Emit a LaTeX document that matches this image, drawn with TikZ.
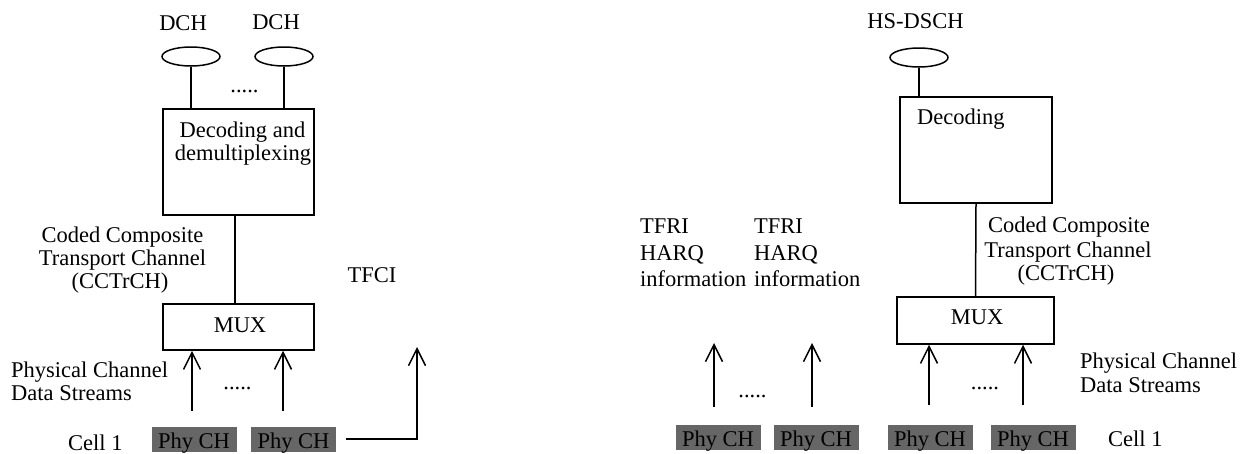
\documentclass[tikz,border=0pt]{standalone}
\usepackage{fontspec}
\setmainfont{Liberation Serif}
\usetikzlibrary{shapes.geometric,arrows.meta}
\definecolor{phygray}{RGB}{102,102,102}
\tikzset{
  txt/.style={font=\fontsize{22.5}{24}\selectfont, inner sep=0pt, anchor=base},
  txtw/.style={txt, anchor=base west},
  chan/.style={draw, ellipse, minimum width=58pt, minimum height=19pt, inner sep=0pt, line width=1.5pt},
  blk/.style={draw, rectangle, inner sep=0pt, line width=1.5pt},
  phy/.style={fill=phygray, font=\fontsize{22.5}{24}\selectfont, inner xsep=0pt, inner ysep=0pt,
              minimum width=85pt, text height=21pt, text depth=4pt, anchor=base},
  ln/.style={line width=1.5pt},
  arr/.style={line width=1.5pt, -{Straight Barb[length=17pt,width=17pt,line width=1.5pt]}},
}
\begin{document}
\begin{tikzpicture}[x=1pt,y=-1pt]
\useasboundingbox (0,0) rectangle (1241,453);

% ---------------- Left diagram ----------------
\node[txt] (dchA) at (183,30.5) {DCH};
\node[txt] (dchB) at (276,29) {DCH};
\node[chan] (e1) at (191,56.5) {};
\node[chan] (e2) at (284,56.5) {};
\node[blk, minimum width=151pt, minimum height=106pt] (dec1) at (238.5,162) {};
\node[txt] (dotsA) at (244.5,92) {.....};
\node[txt] (decA1) at (242.5,137) {Decoding and};
\node[txt] (decA2) at (243,160) {demultiplexing};
\draw[ln] (e1.south) -- (e1.south |- dec1.north);
\draw[ln] (e2.south) -- (e2.south |- dec1.north);

\node[blk, minimum width=151pt, minimum height=46pt] (mux1) at (238.5,327) {};
\node[txt] (muxA) at (240,332) {MUX};
\coordinate (cA) at (235,0);
\draw[ln] (dec1.south -| cA) -- (mux1.north -| cA);

\node[txt] (ccA1) at (122.5,242) {Coded Composite};
\node[txt] (ccA2) at (122.5,265) {Transport Channel};
\node[txt] (ccA3) at (120,288) {(CCTrCH)};
\node[txt] (tfci) at (372,282) {TFCI};

\node[txtw] (pcA1) at (11,377) {Physical Channel};
\node[txtw] (pcA2) at (11,400) {Data Streams};
\node[txt] (dotsB) at (237.5,389) {.....};
\node[txtw] (cellA) at (68,450) {Cell 1};

\node[phy] (phyA1) at (194,448) {Phy CH};
\node[phy] (phyA2) at (293.5,448) {Phy CH};

\coordinate (sA1) at (192,411);
\coordinate (sA2) at (283,411);
\draw[arr] (sA1) -- (sA1 |- mux1.south);
\draw[arr] (sA2) -- (sA2 |- mux1.south);

\coordinate (tA) at (346,439);
\coordinate (tB) at (417,439);
\coordinate (tC) at (417,347);
\draw[arr] (tA) -- (tB) -- (tC);

% ---------------- Right diagram ----------------
\node[txt] (hs) at (915.5,28.5) {HS-DSCH};
\node[chan] (e3) at (919,57.5) {};
\node[blk, minimum width=152pt, minimum height=106pt] (dec2) at (976,150) {};
\node[txtw] (decB) at (917,124) {Decoding};
\draw[ln] (e3.south) -- (e3.south |- dec2.north);

\node[blk, minimum width=157pt, minimum height=47pt] (mux2) at (975.5,320.5) {};
\node[txt] (muxB) at (977,324) {MUX};
\draw[ln] (dec2.south) -- (mux2.north);

\node[txt] (ccB1) at (1069,232) {Coded Composite};
\node[txt] (ccB2) at (1068,257) {Transport Channel};
\node[txt] (ccB3) at (1066,280) {(CCTrCH)};

\node[txtw] (trA1) at (640,233) {TFRI};
\node[txtw] (trA2) at (640,260) {HARQ};
\node[txtw] (trA3) at (640,286) {information};
\node[txtw] (trB1) at (754,233) {TFRI};
\node[txtw] (trB2) at (754,260) {HARQ};
\node[txtw] (trB3) at (754,286) {information};

\node[txt] (dotsC) at (752.5,397) {.....};
\node[txt] (dotsD) at (985,389) {.....};

\node[txtw] (pcB1) at (1080,368) {Physical Channel};
\node[txtw] (pcB2) at (1080,392) {Data Streams};
\node[txtw] (cellB) at (1108,446) {Cell 1};

\node[phy] (phyB1) at (718,446) {Phy CH};
\node[phy] (phyB2) at (816,446) {Phy CH};
\node[phy] (phyB3) at (930,446) {Phy CH};
\node[phy] (phyB4) at (1033,446) {Phy CH};

\coordinate (sB1) at (714,407);
\coordinate (eB1) at (714,343);
\coordinate (sB2) at (812,407);
\coordinate (eB2) at (812,343);
\draw[arr] (sB1) -- (eB1);
\draw[arr] (sB2) -- (eB2);

\coordinate (sB3) at (929,405);
\coordinate (sB4) at (1023,405);
\draw[arr] (sB3) -- (sB3 |- mux2.south);
\draw[arr] (sB4) -- (sB4 |- mux2.south);
\end{tikzpicture}
\end{document}
